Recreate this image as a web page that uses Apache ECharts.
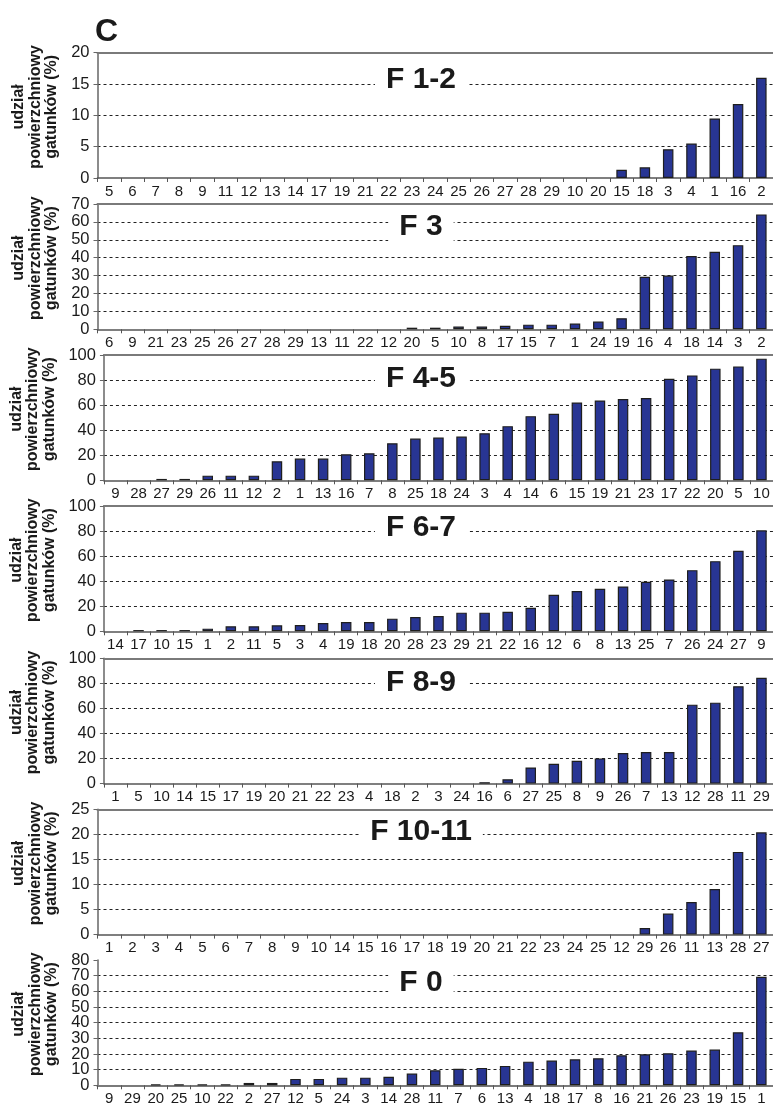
<!DOCTYPE html>
<html>
<head>
<meta charset="utf-8">
<script src="https://cdn.jsdelivr.net/npm/echarts@6/dist/echarts.min.js"></script>
<style>
  html, body { margin: 0; padding: 0; background: #fff; }
  #chart { width: 773px; height: 1107px; }
</style>
</head>
<body>
<div id="chart"></div>
<script>
// Panel names
const panelNames = ['F 1-2', 'F 3', 'F 4-5', 'F 6-7', 'F 8-9', 'F 10-11', 'F 0'];

// Species numbers (category order along each x axis)
const catsF12 = ['5','6','7','8','9','11','12','13','14','17','19','21','22','23','24','25','26','27','28','29','10','20','15','18','3','4','1','16','2'];
const catsF3 = ['6','9','21','23','25','26','27','28','29','13','11','22','12','20','5','10','8','17','15','7','1','24','19','16','4','18','14','3','2'];
const catsF45 = ['9','28','27','29','26','11','12','2','1','13','16','7','8','25','18','24','3','4','14','6','15','19','21','23','17','22','20','5','10'];
const catsF67 = ['14','17','10','15','1','2','11','5','3','4','19','18','20','28','23','29','21','22','16','12','6','8','13','25','7','26','24','27','9'];
const catsF89 = ['1','5','10','14','15','17','19','20','21','22','23','4','18','2','3','24','16','6','27','25','8','9','26','7','13','12','28','11','29'];
const catsF1011 = ['1','2','3','4','5','6','7','8','9','10','14','15','16','17','18','19','20','21','22','23','24','25','12','29','26','11','13','28','27'];
const catsF0 = ['9','29','20','25','10','22','2','27','12','5','24','3','14','28','11','7','6','13','4','18','17','8','16','21','26','23','19','15','1'];

// Surface share of species (%)
const valsF12 = [0,0,0,0,0,0,0,0,0,0,0,0,0,0,0,0,0,0,0,0,0,0,1.3,1.7,4.6,5.5,9.5,11.8,16.0];
const valsF3 = [0,0,0,0,0,0,0,0,0,0,0,0,0,0.9,0.9,1.5,1.5,2.0,2.6,2.6,3.2,4.3,6.2,29.3,30.0,40.9,43.3,47.0,64.2];
const valsF45 = [0,0,1.1,1.1,3.7,3.7,3.7,15.2,17.3,17.3,20.8,21.6,29.6,33.3,34.1,34.9,37.6,43.2,51.2,53.1,62.1,63.7,64.8,65.6,81.1,83.7,89.1,90.9,97.1];
const valsF67 = [0,1.0,1.0,1.0,2.1,4.0,4.0,4.8,5.0,6.6,7.4,7.4,10.1,11.4,12.2,14.9,14.9,15.6,18.8,29.2,32.1,34.0,35.8,39.5,41.4,48.8,56.0,64.2,80.6];
const valsF89 = [0,0,0,0,0,0,0,0,0,0,0,0,0,0,0,0,1.1,3.5,12.9,15.8,18.2,20.1,24.4,25.2,25.2,63.0,64.6,77.7,84.5];
const valsF1011 = [0,0,0,0,0,0,0,0,0,0,0,0,0,0,0,0,0,0,0,0,0,0,0,1.3,4.2,6.5,9.1,16.5,20.4];
const valsF0 = [0,0,0.6,0.6,0.6,0.6,1.5,1.5,4.1,4.1,4.9,4.9,5.5,7.5,9.6,10.5,11.1,12.4,15.1,15.8,16.6,17.3,19.2,19.8,20.5,22.2,22.8,33.9,69.3];

// Y axis ranges per panel
const yMax = [20, 70, 100, 100, 100, 25, 80];
const yStep = [5, 10, 20, 20, 20, 5, 10];

const yAxisTitle = 'udział\npowierzchniowy\ngatunków (%)';

const categories = [catsF12, catsF3, catsF45, catsF67, catsF89, catsF1011, catsF0];
const values = [valsF12, valsF3, valsF45, valsF67, valsF89, valsF1011, valsF0];

// Layout
const gridTops = [52.7, 204, 355, 506, 658.3, 809.3, 960];
const gridHeight = 125.3;
const titleTops = [62, 209, 361, 510, 665, 814, 965];
const FONT = '"Liberation Sans", Arial, Helvetica, sans-serif';
const INK = '#1a1a1a';

const grids = [], xAxes = [], yAxes = [], series = [], titles = [];

titles.push({
  text: 'C', left: 95, top: 16, padding: 0,
  textStyle: { fontFamily: FONT, fontSize: 32, fontWeight: 'bold', color: INK }
});

const labelStyle = { fontFamily: FONT, fontSize: 16.5, lineHeight: 11, color: INK };

for (let i = 0; i < 7; i++) {
  grids.push({ left: 97.5, right: -2, top: gridTops[i], height: gridHeight, containLabel: false });

  // bottom category axis
  xAxes.push({
    type: 'category', gridIndex: i, data: categories[i], position: 'bottom',
    axisLine: { lineStyle: { color: '#555', width: 1.5 } },
    axisTick: { show: true, length: 4, lineStyle: { color: '#555', width: 1 } },
    axisLabel: { interval: 0, margin: 6, fontFamily: FONT, fontSize: 15, color: INK },
    splitLine: { show: false }
  });
  // top border line
  xAxes.push({
    type: 'category', gridIndex: i, data: categories[i], position: 'top',
    axisLine: { lineStyle: { color: '#7a7a7a', width: 2 } },
    axisTick: { show: false }, axisLabel: { show: false }, splitLine: { show: false }
  });

  // densely ticked panels: alternate labels are shared between two stacked axes
  // so that ECharts does not drop the neighbours of the end labels
  const dense = gridHeight / (yMax[i] / yStep[i]) < 17;
  const even = v => Math.round(v / yStep[i]) % 2 === 0;

  const mainY = yAxes.length;
  yAxes.push({
    type: 'value', gridIndex: i, position: 'left', min: 0, max: yMax[i], interval: yStep[i],
    name: yAxisTitle, nameLocation: 'middle', nameRotate: 90, nameGap: 35,
    nameTextStyle: { fontFamily: FONT, fontSize: 16, fontWeight: 'bold', color: INK,
      lineHeight: 16.5, align: 'center', padding: [0, 0, 0, 17] },
    axisLine: { show: true, lineStyle: { color: '#666', width: 1.5 } },
    axisTick: { show: true, length: 4, lineStyle: { color: '#666', width: 1 } },
    axisLabel: Object.assign({
      margin: 8, showMinLabel: true, showMaxLabel: true, hideOverlap: false,
      formatter: v => (!dense || even(v)) ? String(v) : ''
    }, labelStyle),
    splitLine: { show: true, showMinLine: false, showMaxLine: false,
      lineStyle: { color: '#222', width: 1, type: [3, 3] } }
  });
  if (dense) {
    yAxes.push({
      type: 'value', gridIndex: i, position: 'left', offset: 0, min: 0, max: yMax[i], interval: yStep[i],
      axisLine: { show: false }, axisTick: { show: false }, splitLine: { show: false },
      axisLabel: Object.assign({
        margin: 8, showMinLabel: false, showMaxLabel: false, hideOverlap: false,
        formatter: v => even(v) ? '' : String(v)
      }, labelStyle)
    });
  }

  series.push({
    type: 'bar', xAxisIndex: i * 2, yAxisIndex: mainY,
    barWidth: 10.5,
    data: values[i].map(v => v === 0 ? { value: 0, itemStyle: { borderWidth: 0 } } : v),
    itemStyle: { color: '#283593', borderColor: '#1e1e1e', borderWidth: 1.2 },
    silent: true, animation: false
  });

  titles.push({
    text: panelNames[i], left: 410, top: titleTops[i], textAlign: 'center',
    backgroundColor: '#ffffff', padding: [3, 11],
    textStyle: { fontFamily: FONT, fontSize: 30, fontWeight: 'bold', color: INK }
  });
}

const chart = echarts.init(document.getElementById('chart'), null, { renderer: 'canvas' });
chart.setOption({
  animation: false,
  backgroundColor: '#ffffff',
  title: titles,
  grid: grids,
  xAxis: xAxes,
  yAxis: yAxes,
  series: series
});
</script>
</body>
</html>
